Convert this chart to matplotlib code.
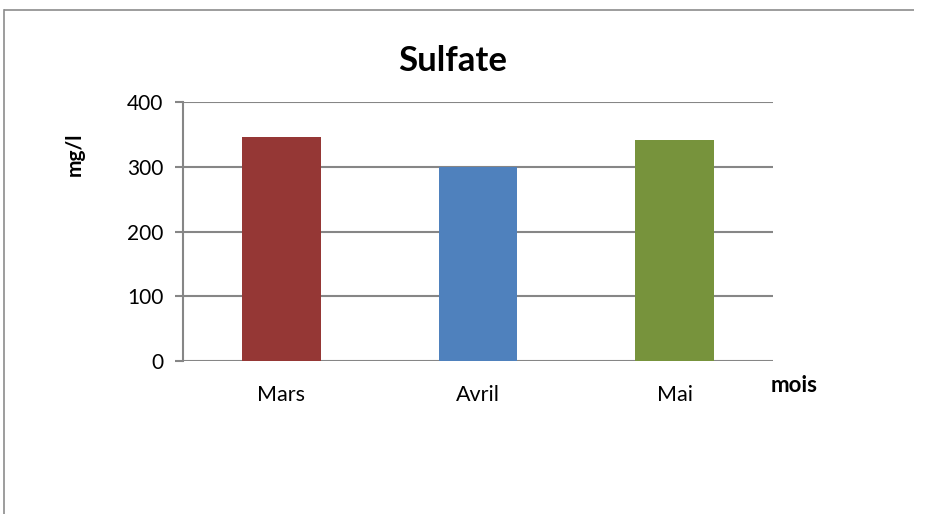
import matplotlib
matplotlib.use("Agg")
import matplotlib.pyplot as plt
from matplotlib.lines import Line2D

categories = ["Mars", "Avril", "Mai"]
values = [346, 299, 341]
colors = ["#953735", "#4F81BD", "#77933C"]
yticks = [0, 100, 200, 300, 400]

plt.rcParams['font.family'] = ['Lato', 'DejaVu Sans']

W, H = 942, 514
fig = plt.figure(figsize=(W / 100, H / 100), dpi=100)
ax = fig.add_axes([183 / W, 1 - 361 / H, (773 - 183) / W, (361 - 102) / H])

x = range(len(categories))
ax.bar(x, values, width=0.4, color=colors, zorder=3)
ax.set_xlim(-0.5, len(categories) - 0.5)
ax.set_ylim(0, 400)
ax.set_yticks(yticks)
ax.set_xticks(list(x))
ax.set_xticklabels(categories)
ax.yaxis.grid(True, color="#868686", linewidth=1.5, zorder=0)
for s in ["top", "right", "bottom"]:
    ax.spines[s].set_visible(False)
ax.spines["left"].set_color("#868686")
ax.spines["left"].set_linewidth(1.5)
ax.tick_params(axis="y", length=6, width=1.5, color="#868686", labelsize=15, pad=8)
ax.tick_params(axis="x", length=0, labelsize=15.5, pad=17)

fig.text(453 / W, 1 - 61 / H, "Sulfate", ha="center", va="center", fontsize=25, fontweight="bold")
fig.text(75 / W, 1 - 154 / H, "mg/l", ha="center", va="center", rotation=90, fontsize=15, fontweight="bold")
fig.text(794 / W, 1 - 386 / H, "mois", ha="center", va="center", fontsize=16, fontweight="bold")

fig.add_artist(Line2D([4 / W, 4 / W], [-0.01, 1 - 10 / H], color="#8c8c8c", linewidth=1.2, transform=fig.transFigure))
fig.add_artist(Line2D([4 / W, 0.97], [1 - 10 / H, 1 - 10 / H], color="#8c8c8c", linewidth=1.2,
                      solid_capstyle="butt", transform=fig.transFigure))

fig.savefig("out.png", dpi=100, facecolor="white")
